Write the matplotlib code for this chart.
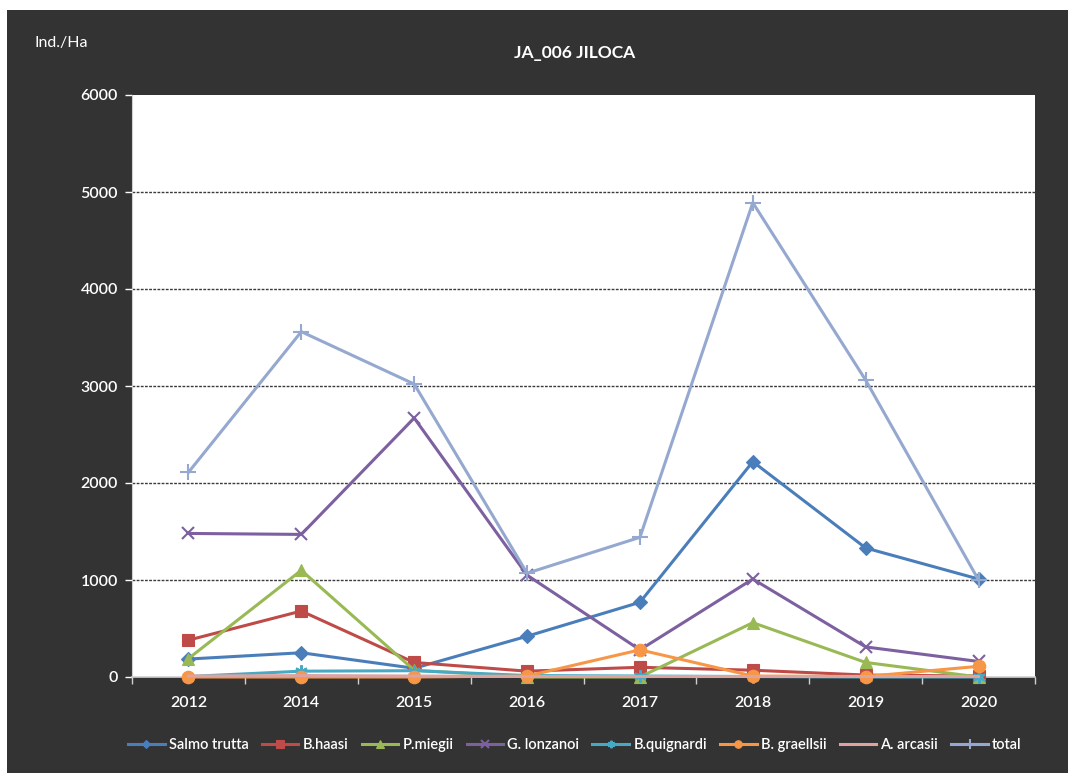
import numpy as np
import matplotlib.pyplot as plt
from matplotlib.patches import Rectangle

# Datos (Ind./Ha)
anios = ['2012', '2014', '2015', '2016', '2017', '2018', '2019', '2020']
salmo_trutta = [185, 250, 90, 420, 770, 2220, 1330, 1010]
b_haasi = [380, 680, 150, 60, 100, 70, 20, 10]
p_miegii = [190, 1100, 70, 0, 0, 560, 150, 0]
g_lonzanoi = [1480, 1470, 2670, 1050, 280, 1010, 310, 160]
b_quignardi = [5, 60, 65, 15, 10, 5, 0, 0]
b_graellsii = [0, 0, 0, 10, 280, 10, 5, 110]
a_arcasii = [10, 15, 10, 5, 5, 5, 5, 5]
total = [2110, 3560, 3020, 1070, 1440, 4890, 3060, 1000]

series = [
    ('Salmo trutta', salmo_trutta, '#4A7EBB', 'D', 7),
    ('B.haasi', b_haasi, '#BE4B48', 's', 9),
    ('P.miegii', p_miegii, '#98B954', '^', 9),
    ('G. lonzanoi', g_lonzanoi, '#7D60A0', 'x', 9),
    ('B.quignardi', b_quignardi, '#46AAC5', (6, 2, 0), 9),
    ('B. graellsii', b_graellsii, '#F79646', 'o', 9),
    ('A. arcasii', a_arcasii, '#DDA3A1', None, 0),
    ('total', total, '#95A8CF', '+', 11),
]

fondo = '#333333'
plt.rcParams['font.family'] = ['Lato', 'DejaVu Sans']

fig = plt.figure(figsize=(10.8, 7.73), dpi=100, facecolor='white')
# Marco oscuro del grafico (detras de los ejes)
fig.patches.append(Rectangle((7 / 1080, 0), 1061 / 1080, 1 - 10 / 773,
                             transform=fig.transFigure, facecolor=fondo,
                             edgecolor='none', zorder=-5))

ax = fig.add_axes([132 / 1080, 1 - 677 / 773, 903 / 1080, 582 / 773])
ax.set_facecolor('white')

x = np.arange(len(anios))
for nombre, valores, color, marcador, tam in series:
    ax.plot(x, valores, color=color, lw=2.2, marker=marcador, markersize=tam,
            markeredgewidth=1.5 if marcador in ('x', '+', (6, 2, 0)) else 0.8,
            markeredgecolor=color, label=nombre, clip_on=False, zorder=3)

ax.set_xlim(-0.5, len(anios) - 0.5)
ax.set_ylim(0, 6000)
ax.set_yticks(range(0, 6001, 1000))
ax.set_xticks(x)
ax.set_xticklabels(anios)
ax.set_xticks(np.arange(-0.5, len(anios), 1), minor=True)

for v in range(1000, 6000, 1000):
    ax.axhline(v, color='#3a3a3a', lw=1.0, ls=(0, (2, 1)), zorder=1)

for s in ['top', 'right']:
    ax.spines[s].set_visible(False)
ax.spines['left'].set_color('#d0d0d0')
ax.spines['bottom'].set_color('#d0d0d0')
ax.spines['bottom'].set_linewidth(1.2)

ax.tick_params(axis='y', colors='white', labelsize=11.5, length=5, width=1, pad=5)
ax.tick_params(axis='x', which='major', colors='white', labelsize=11.5, length=0, pad=14)
ax.tick_params(axis='x', which='minor', colors='#d0d0d0', length=5, width=1)
for lab in ax.get_xticklabels() + ax.get_yticklabels():
    lab.set_fontweight('semibold')

fig.text(35 / 1080, 1 - 43 / 773, 'Ind./Ha', color='white', fontsize=11.5,
         ha='left', va='center')
fig.text(575 / 1080, 1 - 53 / 773, 'JA_006 JILOCA', color='white', fontsize=12.5,
         fontweight='bold', ha='center', va='center')

leg = fig.legend(loc='center', bbox_to_anchor=(575 / 1080, 1 - 745 / 773), ncol=8,
                 frameon=False, fontsize=10.5, handlelength=2.5, handletextpad=0.3,
                 columnspacing=0.9, markerscale=0.6)
for t in leg.get_texts():
    t.set_color('white')
    t.set_fontweight('semibold')

fig.savefig('out.png', dpi=100, facecolor=fig.get_facecolor())
